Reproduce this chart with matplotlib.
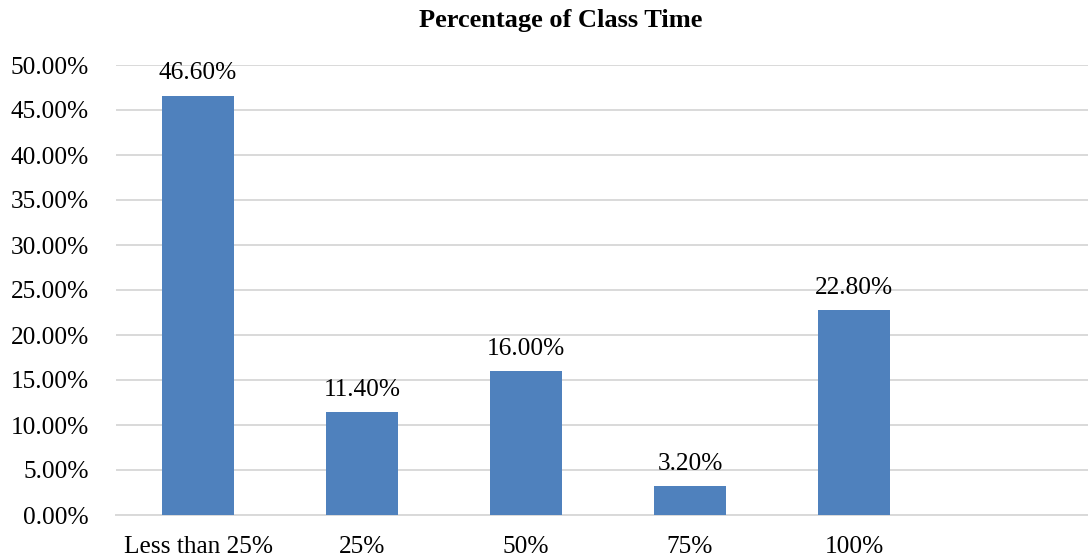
import numpy as np
import matplotlib.pyplot as plt

categories = ['Less than 25%', '25%', '50%', '75%', '100%', '']
values = [46.6, 11.4, 16.0, 3.2, 22.8, np.nan]
yticks = [0, 5, 10, 15, 20, 25, 30, 35, 40, 45, 50]

plt.rcParams['font.family'] = ['Liberation Serif', 'DejaVu Serif']

W, H = 1088, 560
fig = plt.figure(figsize=(W / 100, H / 100), dpi=100)
# plot area in pixels: left 116, right 1100 (past the crop), top 65, bottom 515
ax = fig.add_axes([116 / W, 1 - 515 / H, (1100 - 116) / W, (515 - 65) / H])

x = np.arange(len(categories))
bars = ax.bar(x, values, width=0.445, color='#4f81bd', zorder=3)

for xi, v in zip(x, values):
    if np.isnan(v):
        continue
    ax.annotate(f'{v:.2f}%', (xi, v), xytext=(0, 8), textcoords='offset points',
                ha='center', va='bottom', fontsize=18.3, color='#000000')

ax.set_xlim(-0.5, len(categories) - 0.5)
ax.set_ylim(0, 50)
ax.set_yticks(yticks)
ax.set_yticklabels([f'{t:.2f}%' for t in yticks])
ax.set_xticks(x)
ax.set_xticklabels(categories)
ax.tick_params(axis='both', length=0, labelsize=18.3, colors='#000000')
ax.tick_params(axis='y', pad=19.5)
ax.tick_params(axis='x', pad=15)

ax.grid(axis='y', color='#d9d9d9', linewidth=1.4, zorder=0)
for side in ['top', 'right', 'left']:
    ax.spines[side].set_visible(False)
ax.spines['bottom'].set_color('#d9d9d9')
ax.spines['bottom'].set_linewidth(1.4)

fig.text(561 / W, 1 - 20 / H, 'Percentage of Class Time', ha='center', va='center',
         fontsize=19, fontweight='bold')

fig.savefig('out.png', dpi=100)
